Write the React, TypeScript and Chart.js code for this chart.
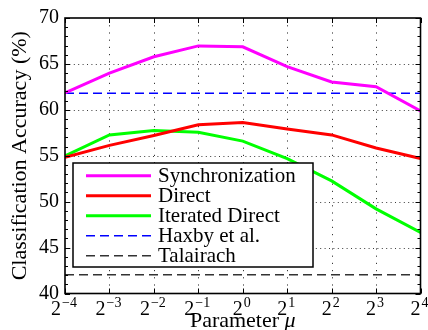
import { useEffect, useRef } from 'react';
import { Chart, registerables } from 'chart.js';

Chart.register(...registerables);

// ---- data ----
const exponents = [-4, -3, -2, -1, 0, 1, 2, 3, 4];
const synchronization = [61.85, 63.99, 65.78, 66.96, 66.86, 64.71, 63.03, 62.52, 59.88];
const direct = [54.84, 56.13, 57.2, 58.38, 58.63, 57.91, 57.27, 55.84, 54.7];
const iteratedDirect = [54.98, 57.27, 57.74, 57.55, 56.59, 54.69, 52.26, 49.22, 46.64];
const haxby = [61.8, 61.8, 61.8, 61.8, 61.8, 61.8, 61.8, 61.8, 61.8];
const talairach = [42.05, 42.05, 42.05, 42.05, 42.05, 42.05, 42.05, 42.05, 42.05];
const seriesLabels = ['Synchronization', 'Direct', 'Iterated Direct', 'Haxby et al.', 'Talairach'];
const yMin = 40;
const yMax = 70;
const yStep = 5;
const xTitle = 'Parameter ';
const xTitleSymbol = 'μ';
const yTitle = 'Classification Accuracy (%)';

const FONT = '"Liberation Serif", "DejaVu Serif", serif';

const fmtExp = (e: number) => (e < 0 ? '\u2212' + Math.abs(e) : String(e));

const decorPlugin = {
  id: 'decor',
  beforeDatasetsDraw(chart: any) {
    const { ctx, chartArea: a, scales } = chart;
    const x = scales.x;
    const y = scales.y;
    ctx.save();
    ctx.strokeStyle = '#3a3a3a';
    ctx.lineWidth = 1;
    ctx.setLineDash([1, 3.4]);
    y.ticks.forEach((t: any) => {
      if (t.value <= y.min || t.value >= y.max) return;
      const py = Math.round(y.getPixelForValue(t.value)) + 0.5;
      ctx.beginPath();
      ctx.moveTo(a.left, py);
      ctx.lineTo(a.right, py);
      ctx.stroke();
    });
    ctx.setLineDash([1.2, 6]);
    x.ticks.forEach((t: any) => {
      if (t.value <= x.min || t.value >= x.max) return;
      const px = Math.round(x.getPixelForValue(t.value)) + 0.5;
      ctx.beginPath();
      ctx.moveTo(px, a.top);
      ctx.lineTo(px, a.bottom);
      ctx.stroke();
    });
    ctx.restore();
  },
  afterDatasetsDraw(chart: any) {
    const { ctx, chartArea: a, scales } = chart;
    const x = scales.x;
    const y = scales.y;
    ctx.save();
    // tick marks (inward)
    ctx.strokeStyle = '#000';
    ctx.lineWidth = 1;
    ctx.setLineDash([]);
    for (let v = y.min; v <= y.max; v += 1) {
      const py = Math.round(y.getPixelForValue(v)) + 0.5;
      const len = v % yStep === 0 ? 5 : 3;
      ctx.beginPath();
      ctx.moveTo(a.left, py);
      ctx.lineTo(a.left + len, py);
      ctx.moveTo(a.right, py);
      ctx.lineTo(a.right - len, py);
      ctx.stroke();
    }
    x.ticks.forEach((t: any) => {
      const px = Math.round(x.getPixelForValue(t.value)) + 0.5;
      ctx.beginPath();
      ctx.moveTo(px, a.top);
      ctx.lineTo(px, a.top + 5);
      ctx.moveTo(px, a.bottom);
      ctx.lineTo(px, a.bottom - 5);
      ctx.stroke();
    });
    // frame
    ctx.lineWidth = 1.6;
    ctx.strokeRect(a.left, a.top, a.right - a.left, a.bottom - a.top);

    // x tick labels 2^e
    ctx.fillStyle = '#000';
    ctx.textBaseline = 'alphabetic';
    ctx.textAlign = 'left';
    exponents.forEach((e) => {
      const px = x.getPixelForValue(e);
      ctx.font = `20px ${FONT}`;
      const wb = ctx.measureText('2').width;
      ctx.font = `14px ${FONT}`;
      const sup = fmtExp(e);
      const ws = ctx.measureText(sup).width;
      const start = px - (wb + ws + 1) / 2 - 1;
      ctx.font = `20px ${FONT}`;
      ctx.fillText('2', start, 315);
      ctx.font = `14px ${FONT}`;
      ctx.fillText(sup, start + wb + 1, 307);
    });

    // x title
    ctx.font = `22px ${FONT}`;
    const w1 = ctx.measureText(xTitle).width;
    ctx.font = `italic 22px ${FONT}`;
    const w2 = ctx.measureText(xTitleSymbol).width;
    const cx = (a.left + a.right) / 2;
    const sx = cx - (w1 + w2) / 2;
    ctx.font = `22px ${FONT}`;
    ctx.fillText(xTitle, sx, 327);
    ctx.font = `italic 22px ${FONT}`;
    ctx.fillText(xTitleSymbol, sx + w1, 327);

    // y title
    ctx.save();
    ctx.translate(25.5, (a.top + a.bottom) / 2);
    ctx.rotate(-Math.PI / 2);
    ctx.textAlign = 'center';
    ctx.font = `22px ${FONT}`;
    ctx.fillText(yTitle, 0, 0);
    ctx.restore();

    // legend
    const bx = 73, by = 163, bw = 240, bh = 104;
    ctx.fillStyle = '#fff';
    ctx.fillRect(bx, by, bw, bh);
    ctx.strokeStyle = '#000';
    ctx.lineWidth = 1.5;
    ctx.strokeRect(bx, by, bw, bh);
    chart.data.datasets.forEach((ds: any, i: number) => {
      const ly = 175.7 + i * 20;
      ctx.save();
      ctx.strokeStyle = ds.borderColor;
      ctx.lineWidth = ds.borderWidth;
      ctx.setLineDash(ds.borderDash || []);
      ctx.beginPath();
      ctx.moveTo(86, ly);
      ctx.lineTo(151, ly);
      ctx.stroke();
      ctx.restore();
      ctx.fillStyle = '#000';
      ctx.font = `21px ${FONT}`;
      ctx.textAlign = 'left';
      ctx.textBaseline = 'alphabetic';
      ctx.fillText(ds.label, 158, ly + 6.5);
    });
    ctx.restore();
  },
};

export default function App() {
  const ref = useRef<HTMLCanvasElement | null>(null);
  useEffect(() => {
    document.body.style.margin = '0';
    const canvas = ref.current;
    if (!canvas) return;
    const mk = (vals: number[]) => exponents.map((e, i) => ({ x: e, y: vals[i] }));
    const chart = new Chart(canvas, {
      type: 'line',
      data: {
        datasets: [
          { label: seriesLabels[0], data: mk(synchronization), borderColor: '#ff00ff', borderWidth: 3, pointRadius: 0, fill: false },
          { label: seriesLabels[1], data: mk(direct), borderColor: '#ff0000', borderWidth: 3, pointRadius: 0, fill: false },
          { label: seriesLabels[2], data: mk(iteratedDirect), borderColor: '#00ff00', borderWidth: 3, pointRadius: 0, fill: false },
          { label: seriesLabels[3], data: mk(haxby), borderColor: '#0000ff', borderWidth: 1.5, borderDash: [9, 5], pointRadius: 0, fill: false },
          { label: seriesLabels[4], data: mk(talairach), borderColor: '#333333', borderWidth: 1.5, borderDash: [9, 5], pointRadius: 0, fill: false },
        ],
      },
      options: {
        animation: false,
        responsive: false,
        devicePixelRatio: 1,
        layout: { padding: { top: 14, right: 7.5, left: 0, bottom: 0 } },
        plugins: { legend: { display: false }, tooltip: { enabled: false } },
        scales: {
          x: {
            type: 'linear',
            min: exponents[0],
            max: exponents[exponents.length - 1],
            ticks: { stepSize: 1, display: false },
            grid: { display: false, drawTicks: false },
            border: { display: false },
            afterFit: (s: any) => { s.height = 36.5; },
          },
          y: {
            min: yMin,
            max: yMax,
            ticks: { stepSize: yStep, color: '#000', padding: 6, font: { family: FONT, size: 20 } },
            grid: { display: false, drawTicks: false },
            border: { display: false },
            afterFit: (s: any) => { s.width = 65; },
          },
        },
      },
      plugins: [decorPlugin],
    } as any);
    let alive = true;
    const fonts: any = (document as any).fonts;
    if (fonts && fonts.load) {
      Promise.all([
        fonts.load('20px "Liberation Serif"'),
        fonts.load('italic 20px "Liberation Serif"'),
      ]).then(() => { if (alive) chart.update('none'); }).catch(() => {});
    }
    return () => { alive = false; chart.destroy(); };
  }, []);
  return (
    <div style={{ width: 428, height: 330 }}>
      <span style={{ fontFamily: '"Liberation Serif"', position: 'absolute', visibility: 'hidden' }}>Aa</span>
      <canvas ref={ref} width={428} height={330} />
    </div>
  );
}
